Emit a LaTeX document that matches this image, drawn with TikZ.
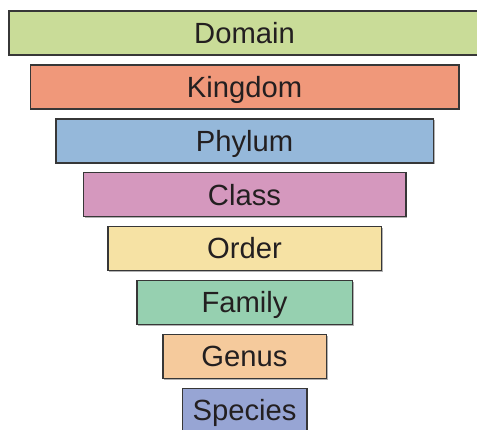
\documentclass[tikz,border=0pt]{standalone}
\usepackage{fontspec}
\setmainfont{Liberation Sans}
\usepackage{xcolor}
\usepackage{tikz}
\usetikzlibrary{positioning, shadows}

\definecolor{domaincol}{RGB}{201,220,152}
\definecolor{kingdomcol}{RGB}{240,152,122}
\definecolor{phylumcol}{RGB}{149,184,218}
\definecolor{classcol}{RGB}{213,152,190}
\definecolor{ordercol}{RGB}{246,226,164}
\definecolor{familycol}{RGB}{150,208,176}
\definecolor{genuscol}{RGB}{245,202,156}
\definecolor{speciescol}{RGB}{151,165,212}
\definecolor{edgecol}{RGB}{55,55,55}
\definecolor{textcol}{RGB}{35,31,32}

\begin{document}
\begin{tikzpicture}[
        x=0.5pt, y=-0.5pt,
        node distance=4.2pt,
        rank/.style={
            draw=edgecol,
            line width=0.75pt,
            minimum height=22pt,
            inner sep=0pt,
            text height=10.3pt,
            text depth=0pt,
            text=textcol,
            font=\fontsize{14.6pt}{17pt}\selectfont,
            drop shadow={shadow xshift=0.7pt, shadow yshift=-0.7pt, opacity=0.3, fill=black}
        }
    ]
        \useasboundingbox (0,0) rectangle (477,429);

        \node[rank, fill=domaincol, minimum width=235.75pt] (domain) at (244.5,33) {Domain};
        \node[rank, fill=kingdomcol, minimum width=214.25pt, below=of domain] (kingdom) {Kingdom};
        \node[rank, fill=phylumcol, minimum width=188.75pt, below=of kingdom] (phylum) {Phylum};
        \node[rank, fill=classcol, minimum width=161.25pt, below=of phylum] (class) {Class};
        \node[rank, fill=ordercol, minimum width=136.75pt, below=of class] (order) {Order};
        \node[rank, fill=familycol, minimum width=107.75pt, below=of order] (family) {Family};
        \node[rank, fill=genuscol, minimum width=81.75pt, below=of family] (genus) {Genus};
        \node[rank, fill=speciescol, minimum width=62.25pt, below=of genus] (species) {Species};
    \end{tikzpicture}
\end{document}
